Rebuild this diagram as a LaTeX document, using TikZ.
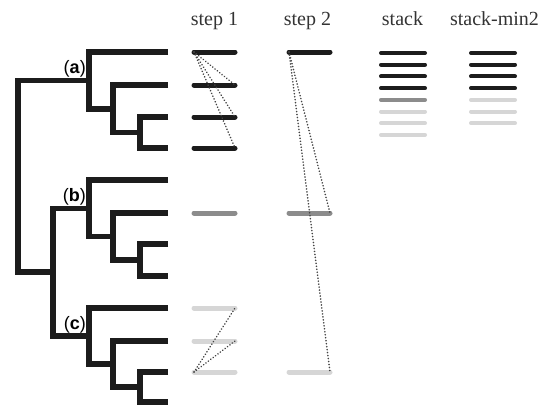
\documentclass[tikz,border=0pt]{standalone}
\usepackage{fontspec}
\setmainfont{Liberation Serif}
\newfontfamily\cladefont{Liberation Sans}
\usetikzlibrary{calc}

\definecolor{inkdark}{HTML}{1C1C1C}
\definecolor{inkmid}{HTML}{8C8C8C}
\definecolor{inklight}{HTML}{D6D6D6}
\definecolor{inkdot}{HTML}{444444}

\tikzset{
	branch/.style={line width=5.5pt, color=inkdark, line join=miter},
	bar/.style={line width=5pt, line cap=round},
	thinbar/.style={line width=4pt, line cap=round},
	probe/.style={line width=1.7pt, color=inkdot, line cap=round, dash pattern=on 0.1pt off 2.9pt},
	title/.style={anchor=base, text=black!80, font=\fontsize{20}{22}\selectfont},
	clade/.style={font=\cladefont\fontsize{18}{20}\selectfont, inner sep=3pt}
}

\begin{document}
\begin{tikzpicture}[x=1pt, y=-1pt]
		\useasboundingbox (0,0) rectangle (548,407);

		% leaves of the tree and the bar ends of the two steps
		\foreach \i/\y in {1/52, 2/85, 3/117, 4/148, 5/180, 6/213,
				7/244, 8/276, 9/308, 10/341, 11/372, 12/402} {
			\coordinate (l\i) at (168,\y);
			\coordinate (p\i) at (194,\y);
			\coordinate (q\i) at (235,\y);
			\coordinate (r\i) at (289,\y);
			\coordinate (s\i) at (330,\y);
		}

		% inner nodes
		\coordinate (n34)  at (140,132.5);
		\coordinate (n234) at (113,108.75);
		\coordinate (na)   at ( 89,80.4);
		\coordinate (n78)  at (140,260);
		\coordinate (n678) at (113,236.5);
		\coordinate (nb)   at ( 89,208.25);
		\coordinate (n1112) at (140,387);
		\coordinate (n10)  at (113,364);
		\coordinate (nc)   at ( 89,336);
		\coordinate (nbc)  at ( 53,272);
		\coordinate (root) at ( 18,176);

		% tree
		\draw[branch] (l3) -| (n34) |- (l4);
		\draw[branch] (l2) -| (n234) |- (n34);
		\draw[branch] (l1) -| (na) |- (n234);
		\draw[branch] (l7) -| (n78) |- (l8);
		\draw[branch] (l6) -| (n678) |- (n78);
		\draw[branch] (l5) -| (nb) |- (n678);
		\draw[branch] (l11) -| (n1112) |- (l12);
		\draw[branch] (l10) -| (n10) |- (n1112);
		\draw[branch] (l9) -| (nc) |- (n10);
		\draw[branch] (nb) -| (nbc) |- (nc);
		\draw[branch] (na) -| (root) |- (nbc);

		\node[clade, above left] (la) at (na) {(\textbf{a})};
		\node[clade, above left] (lb) at (nb) {(\textbf{b})};
		\node[clade, above left] (lc) at (nc) {(\textbf{c})};

		% step 1
		\foreach \i in {1,2,3,4}
			\draw[bar, inkdark] (p\i) -- (q\i);
		\draw[bar, inkmid] (p6) -- (q6);
		\foreach \i in {9,10,11}
			\draw[bar, inklight] (p\i) -- (q\i);

		\draw[probe] (p1) -- (q2);
		\draw[probe] (p1) -- (q3);
		\draw[probe] (p1) -- (q4);
		\draw[probe] (p11) -- (q9);
		\draw[probe] (p11) -- (q10);

		% step 2
		\draw[bar, inkdark] (r1) -- (s1);
		\draw[bar, inkmid] (r6) -- (s6);
		\draw[bar, inklight] (r11) -- (s11);

		\draw[probe] (r1) -- (s6);
		\draw[probe] (r1) -- (s11);

		% stacks
		\foreach \j/\c in {1/inkdark, 2/inkdark, 3/inkdark, 4/inkdark,
				5/inkmid, 6/inklight, 7/inklight, 8/inklight} {
			\coordinate (u\j) at (381,41.3+11.7*\j);
			\coordinate (v\j) at (425,41.3+11.7*\j);
			\draw[thinbar, \c] (u\j) -- (v\j);
		}
		\foreach \j/\c in {1/inkdark, 2/inkdark, 3/inkdark, 4/inkdark,
				5/inklight, 6/inklight, 7/inklight} {
			\coordinate (w\j) at (471,41.3+11.7*\j);
			\coordinate (z\j) at (515,41.3+11.7*\j);
			\draw[thinbar, \c] (w\j) -- (z\j);
		}

		\node[title] (t1) at (214.5,25) {step 1};
		\node[title] (t2) at (307.5,25) {step 2};
		\node[title] (t3) at (402.5,25) {stack};
		\node[title] (t4) at (494.5,25) {stack-min2};

	\end{tikzpicture}
\end{document}
